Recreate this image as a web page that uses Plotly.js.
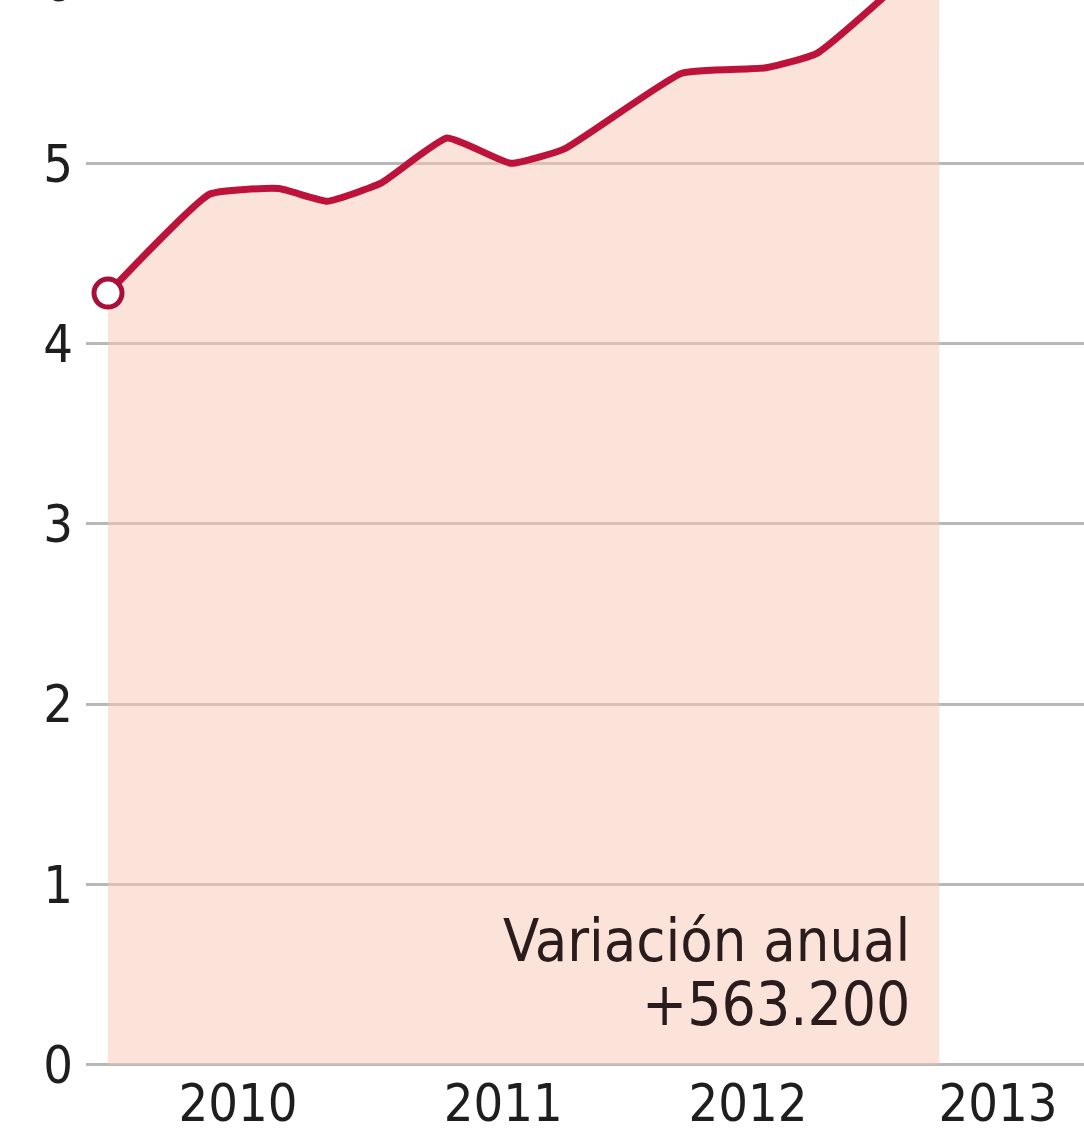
<!DOCTYPE html>
<html>
<head>
<meta charset="utf-8">
<script src="https://cdn.plot.ly/plotly-3.0.1.min.js"></script>
<style>
  html, body { margin: 0; padding: 0; overflow: hidden; background: #ffffff; width: 1084px; height: 1139px; }
  #chart { position: absolute; left: 0; top: -100px; width: 1084px; height: 1239px; }
</style>
</head>
<body>
<div id="chart"></div>
<script>
// Time (fractional years) and unemployed (millions)
const periods = [2009.90, 2010.30, 2010.57, 2010.76, 2010.97, 2011.23, 2011.48, 2011.69, 2012.15, 2012.48, 2012.68, 2013.16];
const unemployed = [4.28, 4.83, 4.86, 4.79, 4.89, 5.14, 5.00, 5.08, 5.50, 5.53, 5.61, 6.20];

const yearTickPositions = [2010.41, 2011.45, 2012.41, 2013.39];
const yearTickLabels = ['2010', '2011', '2012', '2013'];
const yTickValues = [0, 1, 2, 3, 4, 5, 6];

const noteLine1 = 'Variación anual';
const noteLine2 = '+563.200';

const FONT = '"DejaVu Sans Condensed", "Liberation Sans", sans-serif';
const LINE_COLOR = '#bd1239';

const traces = [
  {
    type: 'scatter',
    mode: 'lines',
    x: periods,
    y: unemployed,
    fill: 'tozeroy',
    fillcolor: 'rgba(248,200,182,0.5)',
    line: { color: LINE_COLOR, width: 7, shape: 'spline', smoothing: 0.4 },
    hoverinfo: 'skip'
  },
  {
    type: 'scatter',
    mode: 'markers',
    x: [periods[0]],
    y: [unemployed[0]],
    marker: { symbol: 'circle', size: 28, color: '#ffffff', line: { color: '#a8103a', width: 5 } },
    hoverinfo: 'skip'
  }
];

const layout = {
  width: 1084,
  height: 1239,
  margin: { l: 86, r: 0, t: 20, b: 69 },
  paper_bgcolor: '#ffffff',
  plot_bgcolor: '#ffffff',
  showlegend: false,
  xaxis: {
    range: [2009.8137, 2013.7275],
    showgrid: false,
    zeroline: false,
    showline: false,
    ticks: '',
    tickvals: yearTickPositions,
    ticktext: yearTickLabels,
    tickfont: { family: FONT, size: 52, color: '#1e1e1e' },
    ticklabelstandoff: -2,
    fixedrange: true
  },
  yaxis: {
    range: [-0.03, 6.35],
    showgrid: true,
    gridcolor: '#b8b8b8',
    gridwidth: 3,
    zeroline: false,
    showline: false,
    ticks: '',
    tickvals: yTickValues,
    ticktext: yTickValues.map(String),
    tickfont: { family: FONT, size: 52, color: '#1e1e1e' },
    ticklabelstandoff: 12,
    fixedrange: true
  },
  annotations: [
    {
      xref: 'paper', yref: 'y',
      x: 0.8277, y: 0.69,
      xanchor: 'right', yanchor: 'middle',
      text: noteLine1,
      showarrow: false,
      font: { family: FONT, size: 59, color: '#2a1c1c' }
    },
    {
      xref: 'paper', yref: 'y',
      x: 0.8277, y: 0.335,
      xanchor: 'right', yanchor: 'middle',
      text: noteLine2,
      showarrow: false,
      font: { family: FONT, size: 60, color: '#2a1c1c' }
    }
  ]
};

Plotly.newPlot('chart', traces, layout, { displayModeBar: false, staticPlot: true });
</script>
</body>
</html>
